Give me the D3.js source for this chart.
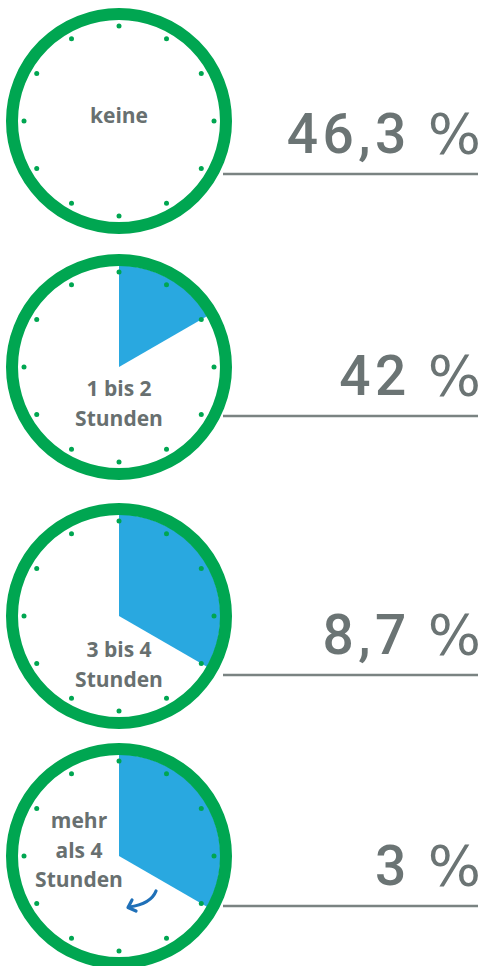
<!DOCTYPE html>
<html lang="de">
<head>
<meta charset="UTF-8">
<script src="https://d3js.org/d3.v7.min.js"></script>
<style>
  body { margin: 0; background: #fff; }
  svg { display: block; }
</style>
</head>
<body>
<div id="chart"></div>
<script>
// data
const categories = ["keine", "1 bis 2 Stunden", "3 bis 4 Stunden", "mehr als 4 Stunden"];
const labelLines = [["keine"], ["1 bis 2", "Stunden"], ["3 bis 4", "Stunden"], ["mehr", "als 4", "Stunden"]];
const shares = [46.3, 42, 8.7, 3];
const wedgeHours = [0, 2, 4, 4];
const hourTicks = [0, 1, 2, 3, 4, 5, 6, 7, 8, 9, 10, 11];

// layout
const width = 481, height = 966;
const clockX = 119;
const rowY = [121, 367, 616, 856];
const ruleY = [174, 416, 675, 906];
const labelX = [119, 119, 119, 79];
const labelDy = [2, 29, 41, -28];
const lineGap = 29.5;
const ringR = 107, ringW = 12, dotR = 95;

const green = "#00a651", blue = "#29a8e0", grey = "#687070";

const de = d3.formatLocale({decimal: ",", thousands: ".", grouping: [3], currency: ["", " €"]});
const fmt = de.format("~g");

const angle = d3.scaleLinear().domain([0, 12]).range([0, 2 * Math.PI]);

const svg = d3.select("#chart").append("svg")
  .attr("width", width).attr("height", height);

const rows = svg.selectAll("g.row")
  .data(categories)
  .join("g")
  .attr("class", "row");

// rule lines
rows.append("line")
  .attr("x1", 223).attr("x2", 478)
  .attr("y1", (d, i) => ruleY[i]).attr("y2", (d, i) => ruleY[i])
  .attr("stroke", "#7a8382").attr("stroke-width", 2.5);

// percentages
const pct = rows.append("text")
  .attr("x", 481)
  .attr("y", (d, i) => ruleY[i] - 21)
  .attr("text-anchor", "end")
  .attr("fill", "#6b7474");
pct.append("tspan")
  .attr("font-family", "Roboto, sans-serif")
  .attr("font-weight", 500)
  .attr("font-size", 55)
  .attr("letter-spacing", 4.5)
  .text((d, i) => fmt(shares[i]));
pct.append("tspan")
  .attr("dx", 17)
  .attr("font-family", "'DejaVu Sans', sans-serif")
  .attr("font-size", 56)
  .text("%");

const clocks = rows.append("g")
  .attr("transform", (d, i) => `translate(${clockX},${rowY[i]})`);

clocks.append("circle")
  .attr("r", ringR)
  .attr("fill", "#fff");

const arc = d3.arc().innerRadius(0).outerRadius(ringR - ringW / 2 + 0.5);
clocks.filter((d, i) => wedgeHours[i] > 0)
  .append("path")
  .attr("fill", blue)
  .attr("d", d => arc({startAngle: 0, endAngle: angle(wedgeHours[categories.indexOf(d)])}));

clocks.append("circle")
  .attr("r", ringR)
  .attr("fill", "none")
  .attr("stroke", green)
  .attr("stroke-width", ringW);

clocks.selectAll("circle.dot")
  .data(hourTicks)
  .join("circle")
  .attr("class", "dot")
  .attr("cx", h => dotR * Math.sin(angle(h)))
  .attr("cy", h => -dotR * Math.cos(angle(h)))
  .attr("r", 2.5)
  .attr("fill", green);

// labels
clocks.each(function(d, i) {
  const g = d3.select(this);
  g.append("text")
    .attr("text-anchor", "middle")
    .attr("font-family", "'Open Sans', sans-serif")
    .attr("font-weight", 700)
    .attr("font-size", 21)
    .attr("fill", grey)
    .selectAll("tspan")
    .data(labelLines[i])
    .join("tspan")
    .attr("x", labelX[i] - clockX)
    .attr("y", (t, j) => labelDy[i] + j * lineGap)
    .text(t => t);
});

// turning arrow on the last clock
const last = clocks.filter((d, i) => i === categories.length - 1);
last.append("path")
  .attr("d", "M37,35 Q32,48 10,51")
  .attr("fill", "none")
  .attr("stroke", "#1f70b8")
  .attr("stroke-width", 3.2)
  .attr("stroke-linecap", "round");
last.append("path")
  .attr("d", "M13,44 L9,51.5 L17,55")
  .attr("fill", "none")
  .attr("stroke", "#1f70b8")
  .attr("stroke-width", 3.2)
  .attr("stroke-linecap", "round")
  .attr("stroke-linejoin", "round");
</script>
</body>
</html>
